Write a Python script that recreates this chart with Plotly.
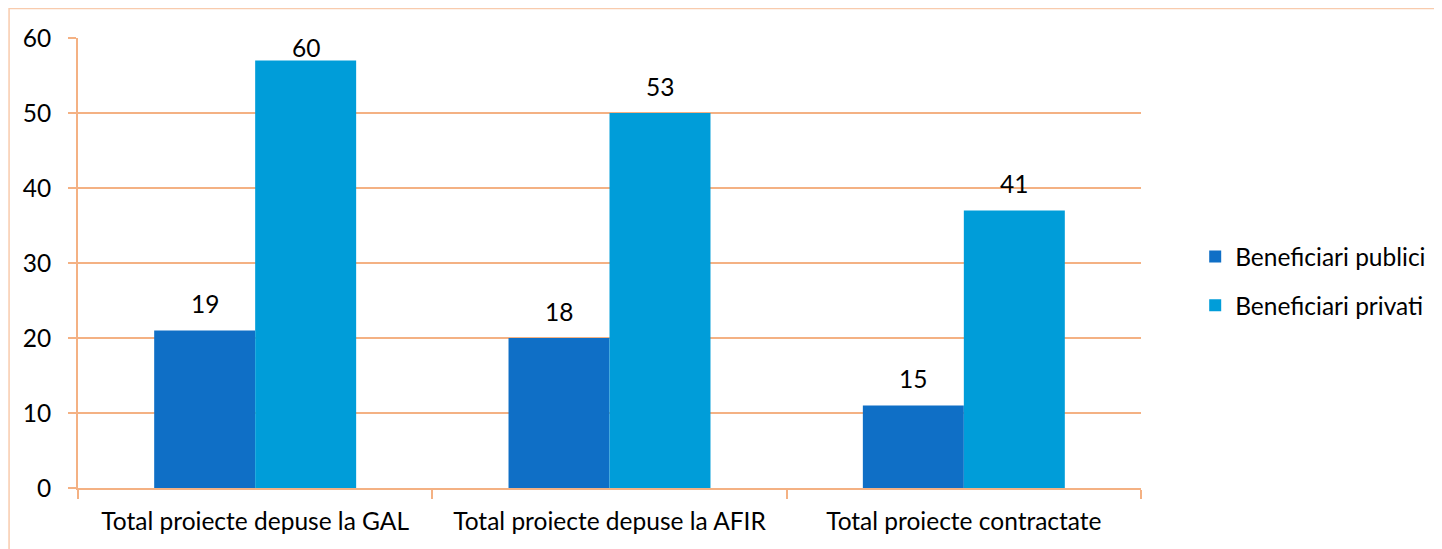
import plotly.graph_objects as go

categories = ["Total proiecte depuse la GAL", "Total proiecte depuse la AFIR", "Total proiecte contractate"]
series_names = ["Beneficiari publici", "Beneficiari privati"]
bar_publici = [21, 20, 11]
bar_privati = [57, 50, 37]
label_publici = ["19", "18", "15"]
label_privati = ["60", "53", "41"]
y_ticks = [0, 10, 20, 30, 40, 50, 60]

colors = ["#0F6FC6", "#009DD9"]
grid = "#F4B183"
FONT = "Lato"
FS = 24.5

W, H = 1434, 541
ml, mt = 70, 30
plot_w, plot_h = 1064, 450
mr = W - ml - plot_w
mb = H - mt - plot_h
ymax = 60
px_per_unit = plot_h / ymax

fig = go.Figure()
for i, (name, vals) in enumerate(zip(series_names, [bar_publici, bar_privati])):
    fig.add_trace(go.Bar(
        x=categories, y=vals, name=name, marker=dict(color=colors[i], line=dict(width=0)),
        legendgroup=name, hoverinfo="skip",
    ))

# data labels
bar_px = plot_w / len(categories) * (1 - 0.43) / 2
for vals, labels, sgn in [(bar_publici, label_publici, -1), (bar_privati, label_privati, 1)]:
    for c, v, t in zip(categories, vals, labels):
        room = (ymax - v) * px_per_unit - 9
        shift = min(27, room)
        fig.add_annotation(x=c, y=v, text=t, showarrow=False, xref="x", yref="y",
                           xshift=sgn * bar_px / 2, yshift=shift, yanchor="middle",
                           font=dict(family=FONT, size=FS, color="#000"))

# outer border
fig.add_shape(type="rect", xref="paper", yref="paper",
              x0=(1 - ml) / plot_w, x1=(W + 20 - ml) / plot_w,
              y0=-(H + 20 - mt - plot_h) / plot_h, y1=(mt + plot_h - 0.5) / plot_h,
              line=dict(color="#F8CBAD", width=1.5), layer="below")

fig.update_layout(
    width=W, height=H,
    margin=dict(l=ml, r=mr, t=mt, b=mb),
    paper_bgcolor="white", plot_bgcolor="white",
    barmode="group", bargap=0.43, bargroupgap=0,
    font=dict(family=FONT, size=FS, color="#000"),
    legend=dict(x=1.05, xanchor="left", y=0.46, yanchor="middle", xref="paper",
                font=dict(family=FONT, size=FS), tracegroupgap=14,
                itemwidth=30, bgcolor="rgba(0,0,0,0)"),
    showlegend=True,
)
fig.update_xaxes(
    type="category", tickson="boundaries", ticks="outside", ticklen=9, tickcolor=grid, tickwidth=2,
    showline=True, linecolor=grid, linewidth=2, showgrid=False, automargin=False,
    tickfont=dict(family=FONT, size=FS, color="#000"), ticklabelstandoff=11,
)
fig.update_yaxes(
    range=[0, ymax], tickvals=y_ticks, ticks="outside", ticklen=8, tickcolor=grid, tickwidth=2,
    showline=True, linecolor=grid, linewidth=2, showgrid=True, gridcolor=grid, gridwidth=2,
    zeroline=False, automargin=False,
    tickfont=dict(family=FONT, size=FS, color="#000"), ticklabelstandoff=12,
)

fig.write_html("out.html")
